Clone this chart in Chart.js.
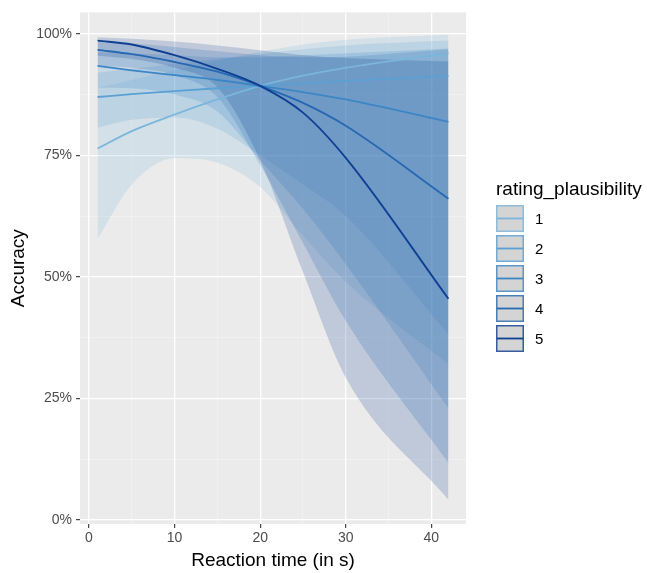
<!DOCTYPE html>
<html>
<head>
<meta charset="utf-8">
<script src="https://cdn.jsdelivr.net/npm/chart.js@4.4.1/dist/chart.umd.min.js"></script>
<style>
  html, body { margin: 0; padding: 0; background: #ffffff; }
  #wrap { width: 647px; height: 573px; }
</style>
</head>
<body>
<div id="wrap"><canvas id="accuracy" width="647" height="573"></canvas></div>
<script>
// reaction time grid (s) where the fitted curves were evaluated
const reactionTime = [1, 5, 10, 15, 20, 25, 30, 42];
const ratingLevels = ["1", "2", "3", "4", "5"];

// fitted accuracy (%) per plausibility rating
const fit1 = [76.4, 80.0, 83.4, 86.5, 89.3, 91.4, 93.0, 96.0];
const fit2 = [87.0, 87.6, 88.2, 88.8, 89.3, 89.8, 90.3, 91.3];
const fit3 = [93.4, 92.5, 91.5, 90.5, 89.3, 88.0, 86.5, 81.9];
const fit4 = [96.7, 95.8, 94.2, 92.2, 89.3, 85.8, 81.1, 66.1];
const fit5 = [98.6, 97.8, 95.6, 92.8, 89.3, 83.8, 74.5, 45.5];

// confidence band, lower edge
const lower1 = [57.8, 69.0, 74.4, 73.5, 68.5, 58.5, 49.0, 32.0];
const lower2 = [80.7, 82.3, 82.8, 80.5, 75.0, 69.0, 62.5, 38.2];
const lower3 = [88.9, 88.8, 87.5, 84.0, 74.0, 64.0, 52.6, 23.0];
const lower4 = [93.5, 93.0, 91.5, 87.0, 73.0, 57.0, 41.0, 11.8];
const lower5 = [95.5, 94.8, 93.0, 89.0, 74.0, 51.0, 29.3, 4.2];

// confidence band, upper edge
const upper1 = [88.9, 90.5, 92.5, 94.5, 96.3, 97.8, 98.8, 99.8];
const upper2 = [92.0, 92.8, 93.8, 94.8, 95.8, 96.8, 97.6, 98.6];
const upper3 = [96.2, 96.0, 95.6, 95.2, 95.2, 95.6, 96.0, 97.0];
const upper4 = [98.3, 98.0, 97.3, 96.4, 95.6, 95.2, 95.3, 96.8];
const upper5 = [99.3, 99.0, 98.4, 97.6, 96.6, 95.6, 95.0, 94.3];

const xTicks = [0, 5, 10, 15, 20, 25, 30, 35, 40];
const yTicks = [0, 12.5, 25, 37.5, 50, 62.5, 75, 87.5, 100];

const fits = [fit1, fit2, fit3, fit4, fit5];
const lowers = [lower1, lower2, lower3, lower4, lower5];
const uppers = [upper1, upper2, upper3, upper4, upper5];
const blues = ["#7ab6dc", "#5aa0d3", "#3d86c6", "#2668b2", "#0f3f92"];

const FONT = "'Liberation Sans', Arial, Helvetica, sans-serif";

function pts(ys) {
  return reactionTime.map((x, i) => ({ x: x, y: ys[i] }));
}
function withAlpha(hex, a) {
  const n = parseInt(hex.slice(1), 16);
  return `rgba(${(n >> 16) & 255}, ${(n >> 8) & 255}, ${n & 255}, ${a})`;
}

const datasets = [];
// lines first so they are drawn on top, darkest on top
for (let k = 4; k >= 0; k--) {
  datasets.push({
    label: ratingLevels[k],
    data: pts(fits[k]),
    borderColor: blues[k],
    borderWidth: 1.8,
    pointRadius: 0,
    fill: false,
    cubicInterpolationMode: "monotone",
  });
}
for (let k = 4; k >= 0; k--) {
  datasets.push({
    label: "upper " + ratingLevels[k],
    data: pts(uppers[k]),
    borderWidth: 0,
    pointRadius: 0,
    backgroundColor: withAlpha(blues[k], 0.2),
    fill: "+1",
    cubicInterpolationMode: "monotone",
  });
  datasets.push({
    label: "lower " + ratingLevels[k],
    data: pts(lowers[k]),
    borderWidth: 0,
    pointRadius: 0,
    fill: false,
    cubicInterpolationMode: "monotone",
  });
}

const panelBg = {
  id: "panelBg",
  beforeDraw(chart) {
    const { ctx, chartArea: a } = chart;
    ctx.save();
    ctx.fillStyle = "#ebebeb";
    ctx.fillRect(a.left, a.top, a.right - a.left, a.bottom - a.top);
    ctx.restore();
  },
};

const ggLegend = {
  id: "ggLegend",
  afterDraw(chart) {
    const ctx = chart.ctx;
    ctx.save();
    ctx.fillStyle = "#000000";
    ctx.font = "19px " + FONT;
    ctx.textBaseline = "middle";
    ctx.textAlign = "left";
    ctx.fillText("rating_plausibility", 496, 190);
    ratingLevels.forEach((lab, k) => {
      const top = 205 + k * 30;
      ctx.fillStyle = "#d4d4d4";
      ctx.fillRect(496, top, 28, 27);
      ctx.strokeStyle = withAlpha(blues[k], 0.8);
      ctx.lineWidth = 1.5;
      ctx.strokeRect(496.75, top + 0.75, 26.5, 25.5);
      ctx.strokeStyle = blues[k];
      ctx.lineWidth = 1.8;
      ctx.beginPath();
      ctx.moveTo(497, top + 13.5);
      ctx.lineTo(523, top + 13.5);
      ctx.stroke();
      ctx.fillStyle = "#000000";
      ctx.font = "15px " + FONT;
      ctx.fillText(lab, 535, top + 15);
    });
    ctx.restore();
  },
};

function gridStyle(majors) {
  return {
    color: (c) => (majors.includes(c.tick.value) ? "#ffffff" : "rgba(255,255,255,0.55)"),
    lineWidth: (c) => (majors.includes(c.tick.value) ? 1.3 : 0.6),
    tickColor: (c) => (majors.includes(c.tick.value) ? "#333333" : "rgba(0,0,0,0)"),
    tickLength: 4,
    tickWidth: 1.1,
    drawTicks: true,
  };
}

new Chart(document.getElementById("accuracy").getContext("2d"), {
  type: "line",
  data: { datasets: datasets },
  plugins: [panelBg, ggLegend],
  options: {
    responsive: false,
    animation: false,
    layout: { padding: { top: 8, right: 181, left: 0, bottom: 0 } },
    plugins: {
      legend: { display: false },
      tooltip: { enabled: false },
    },
    scales: {
      x: {
        type: "linear",
        min: -1.05,
        max: 44.05,
        afterBuildTicks: (s) => { s.ticks = xTicks.map((v) => ({ value: v })); },
        afterFit: (s) => { s.height = 49; },
        border: { display: false },
        grid: gridStyle([0, 10, 20, 30, 40]),
        ticks: {
          autoSkip: false,
          maxRotation: 0,
          padding: 2,
          color: "#4d4d4d",
          font: { family: FONT, size: 14 },
          callback: (v) => (v % 10 === 0 ? String(v) : ""),
        },
        title: {
          display: true,
          text: "Reaction time (in s)",
          color: "#000000",
          font: { family: FONT, size: 19 },
          padding: { top: 0, bottom: 1 },
        },
      },
      y: {
        type: "linear",
        min: -0.8,
        max: 104.4,
        afterBuildTicks: (s) => { s.ticks = yTicks.map((v) => ({ value: v })); },
        afterFit: (s) => { s.width = 80; },
        border: { display: false },
        grid: gridStyle([0, 25, 50, 75, 100]),
        ticks: {
          autoSkip: false,
          padding: 4,
          color: "#4d4d4d",
          font: { family: FONT, size: 14 },
          callback: (v) => (v % 25 === 0 ? v + "%" : ""),
        },
        title: {
          display: true,
          text: "Accuracy",
          color: "#000000",
          font: { family: FONT, size: 19 },
          padding: { top: 7, bottom: 4 },
        },
      },
    },
  },
});
</script>
</body>
</html>
